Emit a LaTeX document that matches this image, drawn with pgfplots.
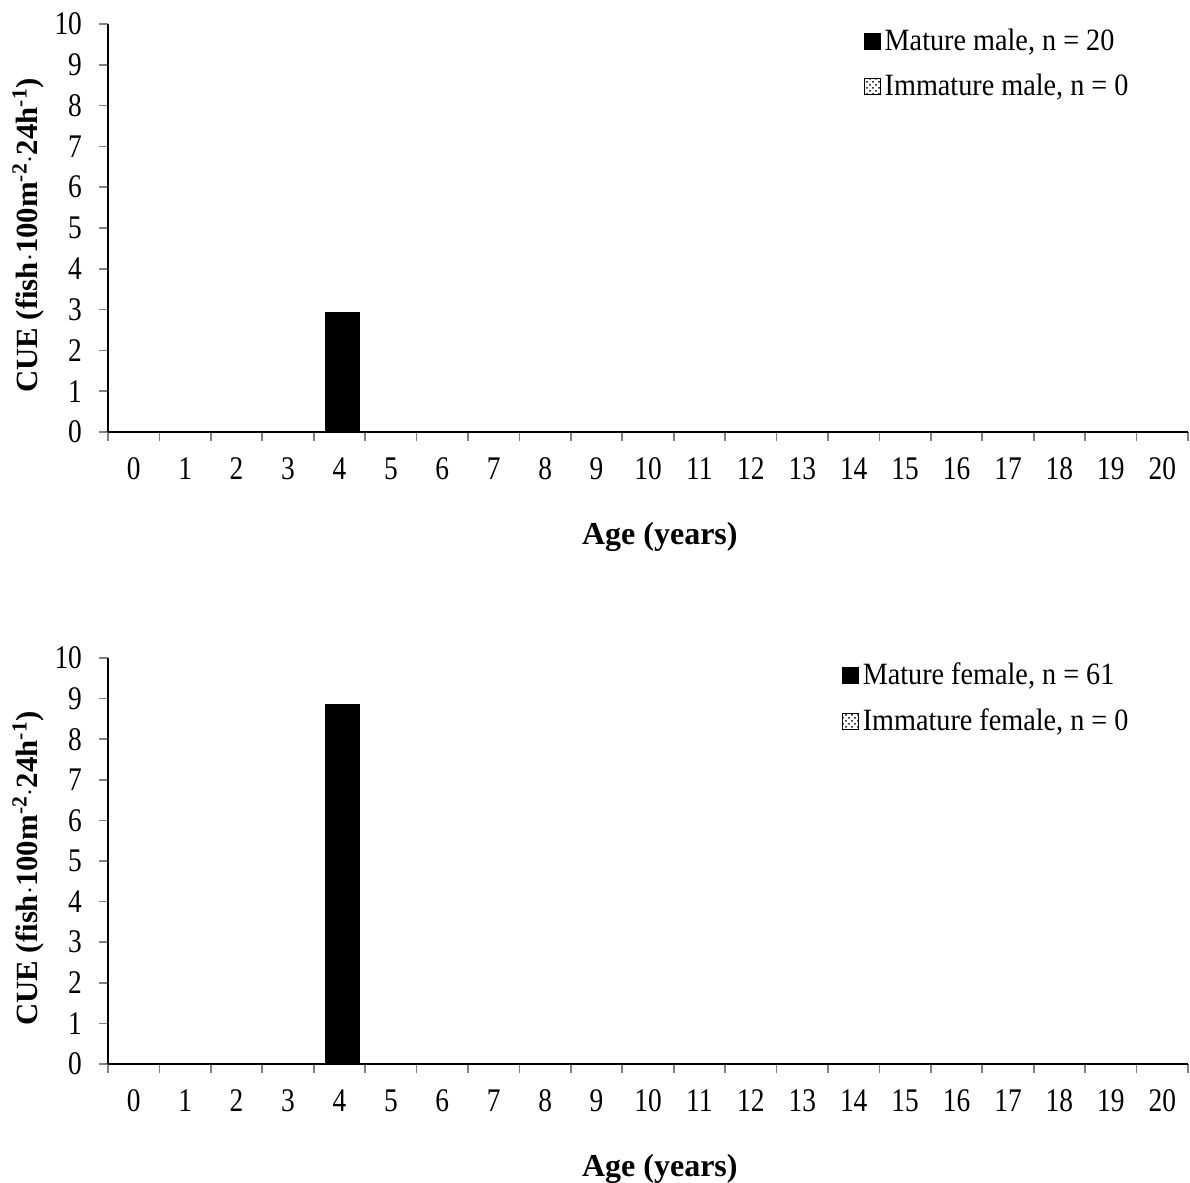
\documentclass[border=0pt]{standalone}
\usepackage{pgfplots}
\pgfplotsset{compat=1.18}
\usetikzlibrary{patterns}
\usepackage{fontspec}
\setmainfont{Liberation Serif}
\newfontfamily\condensed[FakeStretch=0.83]{Liberation Serif}
\newfontfamily\legfont[FakeStretch=0.91]{Liberation Serif}
\pgfplotsset{
  cuestyle/.style={
    scale only axis,
    width=540pt,
    anchor=south west,
    xmin=-0.5, xmax=20.5,
    ymin=0, ymax=10,
    axis x line*=bottom,
    axis y line*=left,
    axis line style={line width=0.8pt},
    ybar stacked,
    bar width=0.68,
    bar shift=1.5pt,
    xtick={0,...,20},
    minor xtick={-0.5,0.5,...,20.5},
    major x tick style={draw=none},
    minor x tick style={line width=0.8pt},
    minor tick length=4.5pt,
    ytick={0,...,10},
    major tick length=4.5pt,
    y tick style={line width=0.8pt},
    tick align=outside,
    /pgf/number format/assume math mode=true,
    tick label style={font=\condensed\fontsize{16.5}{18}\selectfont},
    xticklabel style={anchor=center, yshift=-14pt},
    yticklabel style={anchor=east, xshift=-5pt},
    every axis y label/.style={at={(axis description cs:-0.074,0.482)}, rotate=90, anchor=center, font=\fontsize{15.4}{17}\selectfont\bfseries},
    every axis x label/.style={at={(axis description cs:0.511,0)}, yshift=-52.5pt, anchor=center, font=\fontsize{16}{18}\selectfont\bfseries},
    xlabel={Age (years)},
    ylabel={CUE (fish$\cdot$100m\textsuperscript{-2}$\cdot$24h\textsuperscript{-1})},
    legend style={at={(rel axis cs:0.949,0.999)}, anchor=north east, draw=none, fill=none,
      font=\legfont\fontsize{15.5}{17}\selectfont, row sep=6.5pt, inner sep=0pt,
      /tikz/every even column/.append style={column sep=0pt}},
    legend cell align=left,
    legend image code/.code={\draw[#1] (0pt,-4pt) rectangle (8pt,4pt);},
  }
}
\begin{document}
\begin{tikzpicture}
\useasboundingbox (0,0) rectangle (595pt,-591.5pt);
\begin{axis}[cuestyle, at={(54pt,-216pt)}, height=204pt]
\addplot[fill=black, draw=none, forget plot] coordinates {
(0,0) (1,0) (2,0) (3,0) (4,2.93) (5,0) (6,0) (7,0) (8,0) (9,0) (10,0)
(11,0) (12,0) (13,0) (14,0) (15,0) (16,0) (17,0) (18,0) (19,0) (20,0)};
\addplot[pattern=crosshatch dots, draw=none, forget plot] coordinates {
(0,0) (1,0) (2,0) (3,0) (4,0) (5,0) (6,0) (7,0) (8,0) (9,0) (10,0)
(11,0) (12,0) (13,0) (14,0) (15,0) (16,0) (17,0) (18,0) (19,0) (20,0)};
\addlegendimage{fill=black, draw=black}
\addlegendentry{Mature male, n = 20}
\addlegendimage{pattern=crosshatch dots, draw=black}
\addlegendentry{Immature male, n = 0}
\end{axis}
\begin{axis}[cuestyle, at={(54pt,-532pt)}, height=203pt]
\addplot[fill=black, draw=none, forget plot] coordinates {
(0,0) (1,0) (2,0) (3,0) (4,8.87) (5,0) (6,0) (7,0) (8,0) (9,0) (10,0)
(11,0) (12,0) (13,0) (14,0) (15,0) (16,0) (17,0) (18,0) (19,0) (20,0)};
\addplot[pattern=crosshatch dots, draw=none, forget plot] coordinates {
(0,0) (1,0) (2,0) (3,0) (4,0) (5,0) (6,0) (7,0) (8,0) (9,0) (10,0)
(11,0) (12,0) (13,0) (14,0) (15,0) (16,0) (17,0) (18,0) (19,0) (20,0)};
\addlegendimage{fill=black, draw=black}
\addlegendentry{Mature female, n = 61}
\addlegendimage{pattern=crosshatch dots, draw=black}
\addlegendentry{Immature female, n = 0}
\end{axis}
\end{tikzpicture}
\end{document}
